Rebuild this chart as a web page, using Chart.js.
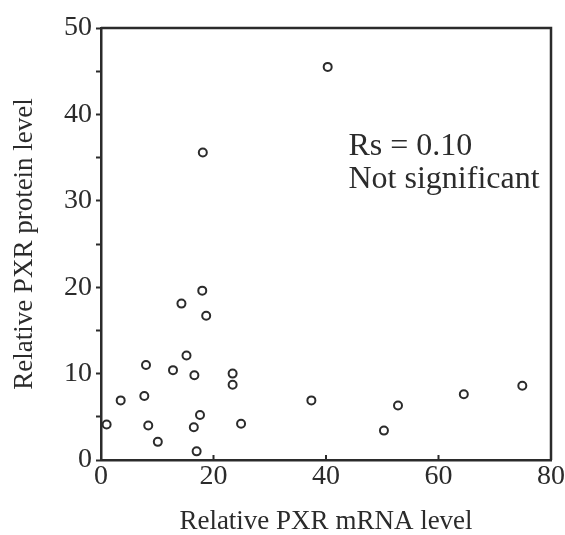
<!DOCTYPE html>
<html>
<head>
<meta charset="utf-8">
<script src="https://cdn.jsdelivr.net/npm/chart.js@4.4.0/dist/chart.umd.min.js"></script>
<style>
  html, body { margin: 0; padding: 0; background: #ffffff; }
  #wrap { width: 565px; height: 535px; position: relative; }
</style>
</head>
<body>
<div id="wrap"><canvas id="c" width="565" height="535"></canvas></div>
<script>
// ---- Data ----
const mrnaLevel = [1.0, 3.5, 7.7, 8.0, 8.4, 10.1, 12.8, 14.3, 15.2, 16.5, 16.6, 17.0, 17.6, 18.0, 18.1, 18.7, 23.4, 23.4, 24.9, 37.4, 40.3, 50.3, 52.8, 64.5, 74.9];
const proteinLevel = [4.1, 6.9, 7.4, 11.0, 4.0, 2.1, 10.4, 18.1, 12.1, 3.8, 9.8, 1.0, 5.2, 19.6, 35.6, 16.7, 10.0, 8.7, 4.2, 6.9, 45.5, 3.4, 6.3, 7.6, 8.6];
const xTicks = [0, 20, 40, 60, 80];
const yTicks = [0, 10, 20, 30, 40, 50];
const xTitle = 'Relative PXR mRNA level';
const yTitle = 'Relative PXR protein level';
const noteLines = ['Rs = 0.10', 'Not significant'];
const notePos = { x: 44.0, y: [35.3, 31.5] };

const INK = '#2b2b2b';
const FONT = "'Liberation Serif', 'Times New Roman', serif";

const points = mrnaLevel.map((x, i) => ({ x: x, y: proteinLevel[i] }));

const framePlugin = {
  id: 'frame',
  afterDraw(chart) {
    const { ctx, chartArea: a, scales } = chart;
    ctx.save();
    ctx.strokeStyle = INK;
    ctx.lineWidth = 2.5;
    ctx.beginPath();
    ctx.moveTo(a.left, a.top);
    ctx.lineTo(a.right, a.top);
    ctx.lineTo(a.right, a.bottom);
    ctx.stroke();
    // inward x ticks
    ctx.lineWidth = 2;
    xTicks.forEach(v => {
      if (v === xTicks[0] || v === xTicks[xTicks.length - 1]) return;
      const px = scales.x.getPixelForValue(v);
      ctx.beginPath();
      ctx.moveTo(px, a.bottom);
      ctx.lineTo(px, a.bottom - 5);
      ctx.stroke();
    });
    // annotation
    ctx.fillStyle = INK;
    ctx.font = "32px " + FONT;
    ctx.textBaseline = 'alphabetic';
    ctx.textAlign = 'left';
    noteLines.forEach((t, i) => {
      ctx.fillText(t, scales.x.getPixelForValue(notePos.x), scales.y.getPixelForValue(notePos.y[i]));
    });
    ctx.restore();
  }
};

new Chart(document.getElementById('c'), {
  type: 'scatter',
  data: {
    datasets: [{
      data: points,
      pointRadius: 4,
      pointHoverRadius: 4,
      pointBorderWidth: 2,
      pointBorderColor: INK,
      pointBackgroundColor: 'rgba(255,255,255,0)',
      showLine: false
    }]
  },
  options: {
    responsive: false,
    animation: false,
    devicePixelRatio: 1,
    layout: { padding: { top: 28, right: 13, left: 0, bottom: 0 } },
    plugins: { legend: { display: false }, tooltip: { enabled: false } },
    scales: {
      x: {
        type: 'linear',
        min: xTicks[0],
        max: xTicks[xTicks.length - 1],
        afterFit(s) { s.height = 75; },
        afterBuildTicks(s) { s.ticks = xTicks.map(v => ({ value: v })); },
        ticks: { color: INK, font: { family: FONT, size: 28 }, padding: 0, maxRotation: 0 },
        grid: { display: true, drawOnChartArea: false, drawTicks: false },
        border: { display: true, color: INK, width: 2.5 },
        title: { display: true, text: xTitle, color: INK, font: { family: FONT, size: 27, lineHeight: 1 }, padding: { top: 0, bottom: 0 } }
      },
      y: {
        type: 'linear',
        min: yTicks[0],
        max: yTicks[yTicks.length - 1],
        afterFit(s) { s.width = 101; },
        ticks: {
          stepSize: 5,
          color: INK,
          font: { family: FONT, size: 28 },
          padding: 4,
          callback: v => (yTicks.includes(v) ? String(v) : '')
        },
        grid: { display: true, drawOnChartArea: false, drawTicks: true, tickLength: 5, tickWidth: 2, tickColor: INK },
        border: { display: true, color: INK, width: 2.5 },
        title: { display: true, text: yTitle, color: INK, font: { family: FONT, size: 27, lineHeight: 1 }, padding: { top: 11, bottom: 0 } }
      }
    }
  },
  plugins: [framePlugin]
});
</script>
</body>
</html>
